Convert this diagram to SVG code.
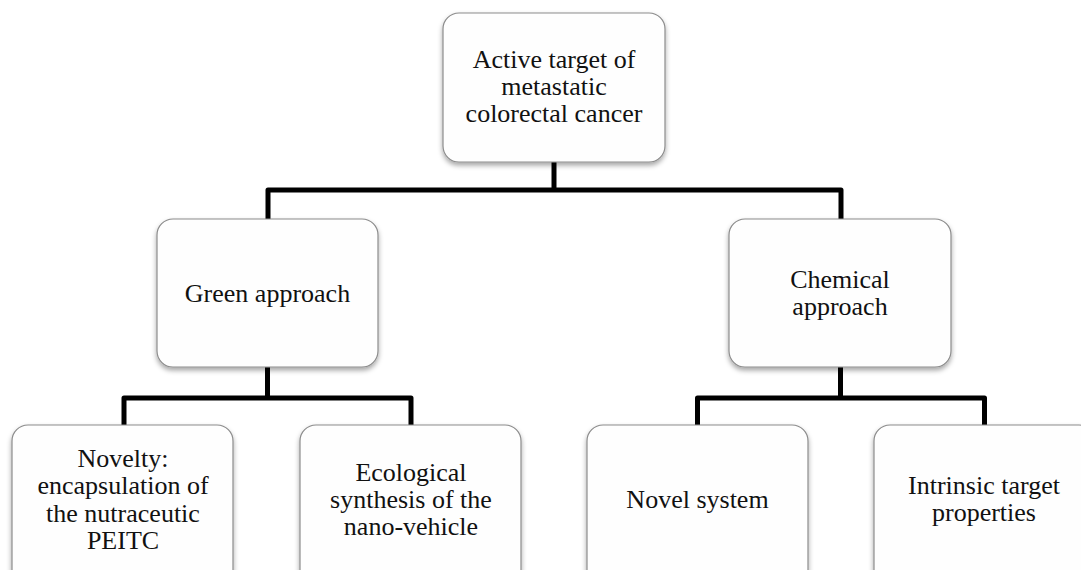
<svg xmlns="http://www.w3.org/2000/svg" width="1081" height="570" viewBox="0 0 1081 570">
<defs>
<filter id="sh" x="-10%" y="-10%" width="120%" height="130%">
<feDropShadow dx="0" dy="3" stdDeviation="2.5" flood-color="#000" flood-opacity="0.35"/>
</filter>
<style>
.box{fill:#fefefe;stroke:#8c8c8c;stroke-width:1.2;filter:url(#sh)}
.t{font-family:"Liberation Serif","Times New Roman",serif;font-size:26px;fill:#111;text-anchor:middle}
.c{fill:none;stroke:#000;stroke-width:5;stroke-linejoin:round}
</style>
</defs>
<rect width="1081" height="570" fill="#fff"/>
<g id="connectors">
<path class="c" d="M554,162 V190"/>
<path class="c" d="M268,219 V190 H841 V219"/>
<path class="c" d="M267.5,367 V398"/>
<path class="c" d="M124,425 V398 H411 V425"/>
<path class="c" d="M840.5,367 V398"/>
<path class="c" d="M697.5,425 V398 H984.5 V425"/>
</g>
<g id="root">
<rect class="box" x="443" y="13" width="222" height="149" rx="16"/>
<text class="t" x="554" y="67.5">Active target of</text>
<text class="t" x="554" y="94.5">metastatic</text>
<text class="t" x="554" y="121.5">colorectal cancer</text>
</g>
<g id="green">
<rect class="box" x="157" y="219" width="221" height="148" rx="16"/>
<text class="t" x="267.5" y="302">Green approach</text>
</g>
<g id="chemical">
<rect class="box" x="729" y="219" width="222" height="148" rx="16"/>
<text class="t" x="840" y="288">Chemical</text>
<text class="t" x="840" y="315">approach</text>
</g>
<g id="novelty">
<rect class="box" x="12" y="425" width="221" height="165" rx="16"/>
<text class="t" x="123" y="467">Novelty:</text>
<text class="t" x="123" y="494">encapsulation of</text>
<text class="t" x="123" y="521.5">the nutraceutic</text>
<text class="t" x="123" y="549">PEITC</text>
</g>
<g id="ecological">
<rect class="box" x="300" y="425" width="221" height="165" rx="16"/>
<text class="t" x="411" y="481">Ecological</text>
<text class="t" x="411" y="507.5">synthesis of the</text>
<text class="t" x="411" y="534.5">nano-vehicle</text>
</g>
<g id="novel-system">
<rect class="box" x="587" y="425" width="221" height="165" rx="16"/>
<text class="t" x="697.5" y="508">Novel system</text>
</g>
<g id="intrinsic">
<rect class="box" x="874" y="425" width="221" height="165" rx="16"/>
<text class="t" x="984" y="494">Intrinsic target</text>
<text class="t" x="984" y="521">properties</text>
</g>
</svg>
